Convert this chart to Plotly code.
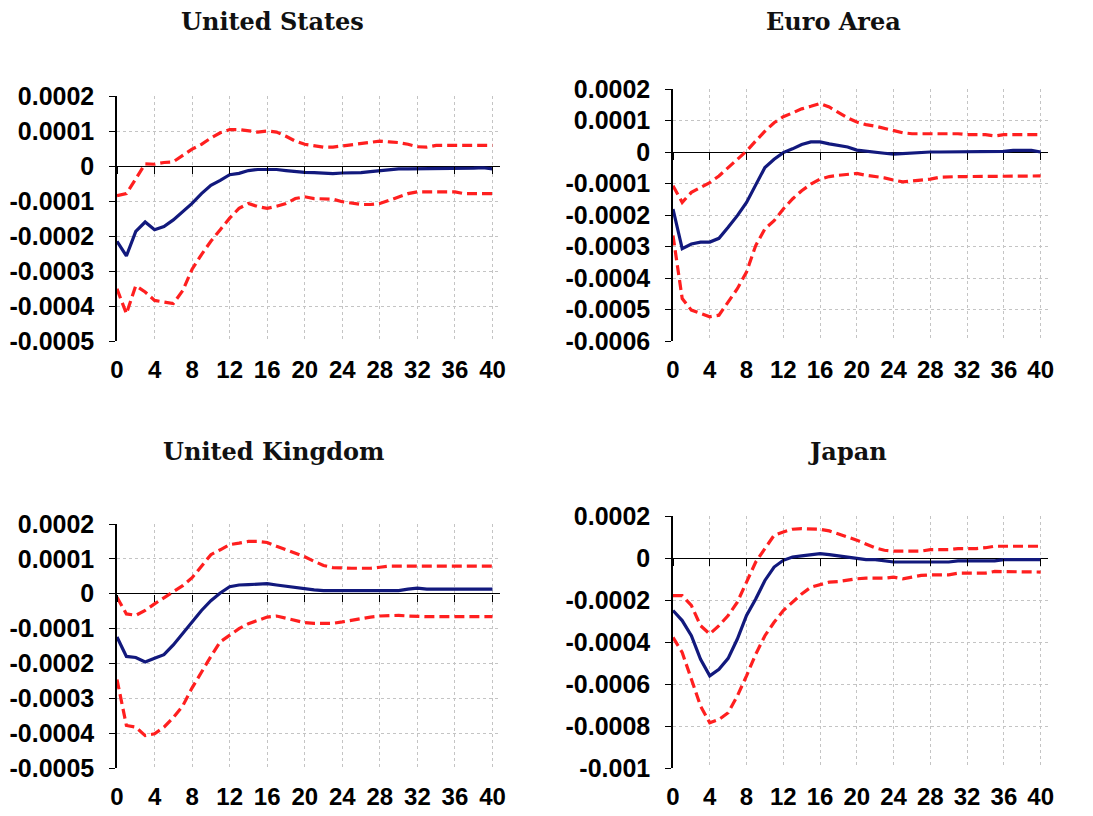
import plotly.graph_objects as go

horizon = list(range(41))

titles = ["United States", "Euro Area", "United Kingdom", "Japan"]

us_mid = [-2.15e-4, -2.57e-4, -1.87e-4, -1.60e-4, -1.82e-4, -1.73e-4, -1.54e-4, -1.30e-4, -1.07e-4, -0.79e-4,
          -0.55e-4, -0.41e-4, -0.25e-4, -0.21e-4, -0.13e-4, -0.10e-4, -0.09e-4, -0.10e-4, -0.13e-4, -0.16e-4,
          -0.18e-4, -0.19e-4, -0.20e-4, -0.22e-4, -0.20e-4, -0.20e-4, -0.19e-4, -0.16e-4, -0.13e-4, -0.10e-4,
          -0.08e-4, -0.08e-4, -0.08e-4, -0.08e-4, -0.08e-4, -0.08e-4, -0.08e-4, -0.07e-4, -0.06e-4, -0.05e-4,
          -0.08e-4]
us_up = [-0.85e-4, -0.79e-4, -0.37e-4, 0.06e-4, 0.05e-4, 0.10e-4, 0.12e-4, 0.29e-4, 0.48e-4, 0.62e-4,
         0.80e-4, 0.95e-4, 1.04e-4, 1.04e-4, 1.00e-4, 0.97e-4, 1.00e-4, 0.97e-4, 0.85e-4, 0.71e-4,
         0.62e-4, 0.57e-4, 0.54e-4, 0.54e-4, 0.57e-4, 0.60e-4, 0.64e-4, 0.67e-4, 0.71e-4, 0.69e-4,
         0.67e-4, 0.62e-4, 0.55e-4, 0.54e-4, 0.59e-4, 0.59e-4, 0.59e-4, 0.59e-4, 0.59e-4, 0.59e-4,
         0.59e-4]
us_lo = [-3.51e-4, -4.22e-4, -3.42e-4, -3.60e-4, -3.84e-4, -3.89e-4, -3.93e-4, -3.56e-4, -2.95e-4, -2.53e-4,
         -2.15e-4, -1.82e-4, -1.49e-4, -1.21e-4, -1.07e-4, -1.16e-4, -1.21e-4, -1.15e-4, -1.07e-4, -0.93e-4,
         -0.88e-4, -0.93e-4, -0.95e-4, -0.95e-4, -1.02e-4, -1.07e-4, -1.10e-4, -1.10e-4, -1.07e-4, -0.98e-4,
         -0.88e-4, -0.79e-4, -0.74e-4, -0.74e-4, -0.74e-4, -0.74e-4, -0.74e-4, -0.79e-4, -0.79e-4, -0.79e-4,
         -0.79e-4]

ea_mid = [-1.81e-4, -3.07e-4, -2.92e-4, -2.86e-4, -2.86e-4, -2.74e-4, -2.39e-4, -2.02e-4, -1.60e-4, -1.02e-4,
          -0.49e-4, -0.23e-4, -0.02e-4, 0.10e-4, 0.24e-4, 0.32e-4, 0.32e-4, 0.26e-4, 0.21e-4, 0.16e-4,
          0.06e-4, 0.02e-4, -0.01e-4, -0.04e-4, -0.07e-4, -0.05e-4, -0.02e-4, 0.0, 0.0, 0.0,
          0.0, 0.0, 0.0, 0.0, 0.0, 0.0, 0.02e-4, 0.05e-4, 0.06e-4, 0.05e-4,
          0.0]
ea_up = [-1.07e-4, -1.60e-4, -1.28e-4, -1.13e-4, -0.97e-4, -0.76e-4, -0.49e-4, -0.23e-4, 0.03e-4, 0.35e-4,
         0.66e-4, 0.93e-4, 1.12e-4, 1.24e-4, 1.37e-4, 1.45e-4, 1.54e-4, 1.43e-4, 1.26e-4, 1.08e-4,
         0.95e-4, 0.87e-4, 0.82e-4, 0.75e-4, 0.68e-4, 0.61e-4, 0.58e-4, 0.58e-4, 0.58e-4, 0.58e-4,
         0.58e-4, 0.58e-4, 0.55e-4, 0.55e-4, 0.55e-4, 0.51e-4, 0.55e-4, 0.55e-4, 0.55e-4, 0.55e-4,
         0.55e-4]
ea_lo = [-2.65e-4, -4.65e-4, -5.02e-4, -5.13e-4, -5.23e-4, -5.18e-4, -4.76e-4, -4.34e-4, -3.81e-4, -2.97e-4,
         -2.44e-4, -2.18e-4, -1.81e-4, -1.49e-4, -1.23e-4, -1.02e-4, -0.86e-4, -0.78e-4, -0.74e-4, -0.72e-4,
         -0.68e-4, -0.74e-4, -0.78e-4, -0.82e-4, -0.89e-4, -0.95e-4, -0.92e-4, -0.89e-4, -0.86e-4, -0.80e-4,
         -0.78e-4, -0.78e-4, -0.78e-4, -0.78e-4, -0.78e-4, -0.78e-4, -0.78e-4, -0.78e-4, -0.76e-4, -0.76e-4,
         -0.76e-4]

uk_mid = [-1.24e-4, -1.80e-4, -1.83e-4, -1.96e-4, -1.85e-4, -1.75e-4, -1.47e-4, -1.14e-4, -0.81e-4, -0.48e-4,
          -0.20e-4, 0.02e-4, 0.20e-4, 0.25e-4, 0.26e-4, 0.28e-4, 0.29e-4, 0.25e-4, 0.21e-4, 0.17e-4,
          0.13e-4, 0.11e-4, 0.09e-4, 0.09e-4, 0.09e-4, 0.09e-4, 0.09e-4, 0.09e-4, 0.09e-4, 0.09e-4,
          0.09e-4, 0.13e-4, 0.16e-4, 0.13e-4, 0.13e-4, 0.13e-4, 0.13e-4, 0.13e-4, 0.13e-4, 0.13e-4,
          0.13e-4]
uk_up = [-0.10e-4, -0.58e-4, -0.62e-4, -0.48e-4, -0.29e-4, -0.12e-4, 0.04e-4, 0.23e-4, 0.46e-4, 0.79e-4,
         1.12e-4, 1.26e-4, 1.41e-4, 1.45e-4, 1.50e-4, 1.50e-4, 1.47e-4, 1.36e-4, 1.26e-4, 1.17e-4,
         1.06e-4, 0.93e-4, 0.81e-4, 0.75e-4, 0.73e-4, 0.73e-4, 0.73e-4, 0.73e-4, 0.76e-4, 0.79e-4,
         0.79e-4, 0.79e-4, 0.79e-4, 0.79e-4, 0.79e-4, 0.79e-4, 0.79e-4, 0.79e-4, 0.79e-4, 0.79e-4,
         0.79e-4]
uk_lo = [-2.46e-4, -3.78e-4, -3.83e-4, -4.07e-4, -4.02e-4, -3.83e-4, -3.55e-4, -3.22e-4, -2.70e-4, -2.23e-4,
         -1.80e-4, -1.38e-4, -1.19e-4, -1.00e-4, -0.86e-4, -0.76e-4, -0.67e-4, -0.64e-4, -0.70e-4, -0.76e-4,
         -0.83e-4, -0.85e-4, -0.85e-4, -0.85e-4, -0.81e-4, -0.76e-4, -0.72e-4, -0.67e-4, -0.64e-4, -0.62e-4,
         -0.62e-4, -0.64e-4, -0.66e-4, -0.66e-4, -0.66e-4, -0.66e-4, -0.66e-4, -0.66e-4, -0.66e-4, -0.66e-4,
         -0.66e-4]

jp_mid = [-2.50e-4, -2.98e-4, -3.70e-4, -4.82e-4, -5.61e-4, -5.30e-4, -4.78e-4, -3.86e-4, -2.74e-4, -1.95e-4,
          -1.07e-4, -0.43e-4, -0.11e-4, 0.05e-4, 0.10e-4, 0.16e-4, 0.21e-4, 0.16e-4, 0.10e-4, 0.06e-4,
          0.0, -0.08e-4, -0.08e-4, -0.14e-4, -0.19e-4, -0.19e-4, -0.19e-4, -0.19e-4, -0.19e-4, -0.19e-4,
          -0.19e-4, -0.14e-4, -0.14e-4, -0.14e-4, -0.14e-4, -0.14e-4, -0.08e-4, -0.08e-4, -0.08e-4, -0.08e-4,
          -0.08e-4]
jp_up = [-1.79e-4, -1.79e-4, -2.26e-4, -3.22e-4, -3.62e-4, -3.22e-4, -2.74e-4, -2.10e-4, -1.15e-4, -0.19e-4,
         0.45e-4, 1.08e-4, 1.24e-4, 1.37e-4, 1.40e-4, 1.40e-4, 1.37e-4, 1.29e-4, 1.16e-4, 1.00e-4,
         0.85e-4, 0.65e-4, 0.48e-4, 0.37e-4, 0.33e-4, 0.33e-4, 0.33e-4, 0.33e-4, 0.40e-4, 0.40e-4,
         0.40e-4, 0.45e-4, 0.45e-4, 0.45e-4, 0.49e-4, 0.56e-4, 0.56e-4, 0.56e-4, 0.56e-4, 0.56e-4,
         0.56e-4]
jp_lo = [-3.78e-4, -4.50e-4, -5.77e-4, -7.05e-4, -7.85e-4, -7.69e-4, -7.37e-4, -6.57e-4, -5.61e-4, -4.58e-4,
         -3.70e-4, -3.06e-4, -2.50e-4, -2.10e-4, -1.71e-4, -1.39e-4, -1.28e-4, -1.15e-4, -1.12e-4, -1.05e-4,
         -0.99e-4, -0.96e-4, -0.96e-4, -0.96e-4, -0.91e-4, -0.99e-4, -0.91e-4, -0.83e-4, -0.80e-4, -0.80e-4,
         -0.80e-4, -0.72e-4, -0.72e-4, -0.72e-4, -0.72e-4, -0.64e-4, -0.64e-4, -0.64e-4, -0.64e-4, -0.66e-4,
         -0.67e-4]

x_ticks = [0, 4, 8, 12, 16, 20, 24, 28, 32, 36, 40]
y_ticks_a = [0.0002, 0.0001, 0, -0.0001, -0.0002, -0.0003, -0.0004, -0.0005]
y_text_a = ["0.0002", "0.0001", "0", "-0.0001", "-0.0002", "-0.0003", "-0.0004", "-0.0005"]
y_ticks_b = [0.0002, 0.0001, 0, -0.0001, -0.0002, -0.0003, -0.0004, -0.0005, -0.0006]
y_text_b = ["0.0002", "0.0001", "0", "-0.0001", "-0.0002", "-0.0003", "-0.0004", "-0.0005", "-0.0006"]
y_ticks_c = [0.0002, 0, -0.0002, -0.0004, -0.0006, -0.0008, -0.001]
y_text_c = ["0.0002", "0", "-0.0002", "-0.0004", "-0.0006", "-0.0008", "-0.001"]

panels = [
    dict(mid=us_mid, up=us_up, lo=us_lo, yt=y_ticks_a, ytxt=y_text_a, yr=[-0.0005, 0.0002],
         dx=[117, 500], dy=[96, 341]),
    dict(mid=ea_mid, up=ea_up, lo=ea_lo, yt=y_ticks_b, ytxt=y_text_b, yr=[-0.0006, 0.0002],
         dx=[673, 1048], dy=[89, 341]),
    dict(mid=uk_mid, up=uk_up, lo=uk_lo, yt=y_ticks_a, ytxt=y_text_a, yr=[-0.0005, 0.0002],
         dx=[117, 500], dy=[524, 768]),
    dict(mid=jp_mid, up=jp_up, lo=jp_lo, yt=y_ticks_c, ytxt=y_text_c, yr=[-0.001, 0.0002],
         dx=[673, 1048], dy=[516, 768]),
]
title_pos = [(272, 21), (833, 21), (273, 451), (847, 451)]

W, H = 1093, 816
BLUE = "#12197d"
RED = "#ff1f1f"
XR = [0, 40.8]


def fx(px):
    return px / W


def fy(py):
    return 1 - py / H


fig = go.Figure()
layout = dict(width=W, height=H, margin=dict(l=0, r=0, t=0, b=0, autoexpand=False),
              paper_bgcolor="white", plot_bgcolor="white", showlegend=False)
annotations = []

for i, p in enumerate(panels):
    k = i + 1
    xa = "x" if k == 1 else f"x{k}"
    ya = "y" if k == 1 else f"y{k}"
    xdom = [fx(p["dx"][0]), fx(p["dx"][1])]
    ydom = [fy(p["dy"][1]), fy(p["dy"][0])]
    for series, color, dash in [(p["lo"], RED, "10px,5px"), (p["up"], RED, "10px,5px"), (p["mid"], BLUE, "solid")]:
        fig.add_trace(go.Scatter(x=horizon, y=series, mode="lines", xaxis=xa, yaxis=ya,
                                 line=dict(color=color, width=3.2, dash=dash), hoverinfo="skip"))
    layout["xaxis" if k == 1 else f"xaxis{k}"] = dict(
        domain=xdom, anchor=ya, range=XR, tickvals=x_ticks, ticktext=[str(v) for v in x_ticks],
        showgrid=True, gridcolor="#c4c4c4", griddash="dot", gridwidth=1, automargin=False,
        showline=False, zeroline=False, ticks="", ticklabelstandoff=12,
        tickfont=dict(family="Liberation Sans", size=24, color="black", weight="bold"))
    layout["yaxis" if k == 1 else f"yaxis{k}"] = dict(
        domain=ydom, anchor=xa, range=p["yr"], tickvals=p["yt"], ticktext=p["ytxt"],
        showgrid=True, gridcolor="#c4c4c4", griddash="dot", gridwidth=1, automargin=False,
        showline=True, linecolor="black", linewidth=1.5,
        zeroline=True, zerolinecolor="black", zerolinewidth=1.2,
        ticks="outside", ticklen=6, tickcolor="black", ticklabelstandoff=10,
        tickfont=dict(family="Liberation Sans", size=25, color="black", weight="bold"))
    # tick marks along the zero line (axis crossing at 0)
    kk = k + 4
    frac0 = (0 - p["yr"][0]) / (p["yr"][1] - p["yr"][0])
    layout[f"xaxis{kk}"] = dict(
        domain=xdom, overlaying=xa, anchor="free", position=ydom[0] + frac0 * (ydom[1] - ydom[0]),
        range=XR, tickvals=x_ticks, showticklabels=False, ticks="outside", ticklen=7, automargin=False,
        tickcolor="black", tickwidth=1.2, showgrid=False, zeroline=False, showline=False)
    fig.add_trace(go.Scatter(x=[], y=[], xaxis=f"x{kk}", yaxis=ya, mode="lines", hoverinfo="skip"))
    tx, ty = title_pos[i]
    annotations.append(dict(text="<b>" + titles[i] + "</b>", x=fx(tx), y=fy(ty),
                            xref="paper", yref="paper", showarrow=False, xanchor="center", yanchor="middle",
                            font=dict(family="DejaVu Serif", size=24, color="#111")))

layout["annotations"] = annotations
fig.update_layout(**layout)
fig.write_html("out.html", config={"displayModeBar": False},
               post_script="document.body.style.margin='0px';document.body.style.overflow='hidden';"
                           "document.documentElement.style.overflow='hidden';")
